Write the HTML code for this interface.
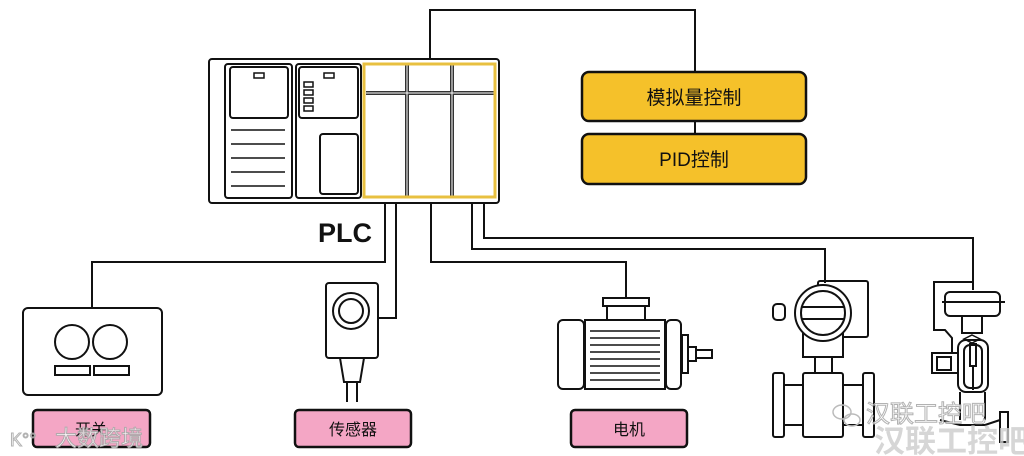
<!DOCTYPE html>
<html><head><meta charset="utf-8"><style>
html,body{margin:0;padding:0;background:#fff;}
svg{display:block;}
text{font-family:"Liberation Sans","Noto Sans CJK SC",sans-serif;}
</style></head><body>
<svg width="1024" height="456" viewBox="0 0 1024 456" xmlns="http://www.w3.org/2000/svg">
<g fill="none" stroke="#111" stroke-width="2">
<polyline points="430,59 430,10 695,10 695,72"/>
<line x1="695" y1="121" x2="695" y2="134"/>
<polyline points="385,203 385,262 92,262 92,308"/>
<polyline points="396,203 396,318 378,318"/>
<polyline points="431,203 431,262 626,262 626,298"/>
<polyline points="472,203 472,249 825,249 825,283"/>
<polyline points="484,203 484,238 973,238 973,290"/>
<rect x="209" y="59" width="290" height="144" rx="3"/>
<rect x="225" y="64" width="67" height="134" rx="3"/>
<rect x="230" y="67" width="58" height="51" rx="3"/>
<rect x="254" y="73" width="10" height="5" stroke-width="1.5"/>
<g stroke-width="1.5"><line x1="231" y1="130" x2="285" y2="130"/><line x1="231" y1="144" x2="285" y2="144"/><line x1="231" y1="158" x2="285" y2="158"/><line x1="231" y1="172" x2="285" y2="172"/><line x1="231" y1="186" x2="285" y2="186"/></g>
<rect x="296" y="64" width="65" height="134" rx="3"/>
<rect x="299" y="67" width="59" height="51" rx="3"/>
<g stroke-width="1.5"><rect x="324" y="73" width="10" height="5"/><rect x="304" y="82" width="9" height="5"/><rect x="304" y="90" width="9" height="5"/><rect x="304" y="98" width="9" height="5"/><rect x="304" y="106" width="9" height="5"/></g>
<rect x="320" y="134" width="38" height="60" rx="3"/>
<g stroke="#333" stroke-width="4"><line x1="407" y1="65" x2="407" y2="197"/><line x1="452" y1="65" x2="452" y2="197"/><line x1="366" y1="93" x2="494" y2="93"/></g>
<g stroke="#fff" stroke-width="1"><line x1="407" y1="65" x2="407" y2="197"/><line x1="452" y1="65" x2="452" y2="197"/><line x1="366" y1="93" x2="494" y2="93"/></g>
<rect x="364" y="64" width="131" height="133" stroke="#e8c040" stroke-width="3"/>
<rect x="23" y="308" width="139" height="87" rx="5"/>
<circle cx="72" cy="342" r="17"/><circle cx="110" cy="342" r="17"/>
<rect x="55" y="366" width="35" height="9"/><rect x="94" y="366" width="35" height="9"/>
<rect x="326" y="283" width="52" height="75" rx="3"/>
<circle cx="351" cy="311" r="18"/><circle cx="351" cy="311" r="12"/>
<polygon points="340,358 364,358 360,382 344,382"/>
<line x1="347" y1="382" x2="347" y2="402"/><line x1="357" y1="382" x2="357" y2="402"/>
<rect x="603" y="298" width="46" height="8"/><rect x="607" y="306" width="38" height="14"/>
<rect x="558" y="320" width="26" height="69" rx="5"/>
<rect x="585" y="320" width="80" height="69"/>
<rect x="666" y="320" width="15" height="69" rx="5"/>
<rect x="682" y="335" width="6" height="38"/>
<rect x="688" y="347" width="8" height="14"/><rect x="696" y="350" width="16" height="8"/>
<g stroke-width="1.5"><line x1="590" y1="331" x2="660" y2="331"/><line x1="590" y1="338" x2="660" y2="338"/><line x1="590" y1="345" x2="660" y2="345"/><line x1="590" y1="352" x2="660" y2="352"/><line x1="590" y1="359" x2="660" y2="359"/><line x1="590" y1="366" x2="660" y2="366"/><line x1="590" y1="373" x2="660" y2="373"/><line x1="590" y1="380" x2="660" y2="380"/></g>
<rect x="818" y="281" width="50" height="56" rx="2"/>
<rect x="773" y="304" width="12" height="16" rx="4"/>
<rect x="803" y="330" width="40" height="27" fill="#fff"/>
<circle cx="823" cy="313" r="28" fill="#fff"/><circle cx="823" cy="313" r="22"/>
<line x1="801" y1="307" x2="845" y2="307"/><line x1="801" y1="319" x2="845" y2="319"/>
<rect x="815" y="357" width="17" height="16"/>
<rect x="773" y="373" width="11" height="64" rx="2"/><rect x="863" y="373" width="11" height="64" rx="2"/>
<line x1="784" y1="385" x2="803" y2="385"/><line x1="784" y1="425" x2="803" y2="425"/>
<line x1="843" y1="385" x2="863" y2="385"/><line x1="843" y1="425" x2="863" y2="425"/>
<rect x="803" y="373" width="40" height="64" rx="2"/>
<polyline points="973,290 973,282 934,282 934,330 945,330 952,338 952,354"/>
<rect x="945" y="292" width="55" height="24" rx="5"/>
<line x1="942" y1="302" x2="1005" y2="302"/>
<polyline points="962,316 962,333 982,333 982,316"/>
<polygon points="972,335 980,339 972,343 964,339" stroke-width="1.5"/>
<rect x="958" y="340" width="30" height="52" rx="8"/>
<rect x="964" y="345" width="18" height="43" rx="6"/>
<rect x="970" y="344" width="6" height="22"/>
<line x1="973" y1="366" x2="973" y2="390"/>
<rect x="932" y="353" width="26" height="20"/>
<rect x="937" y="357" width="14" height="13"/>
<line x1="960" y1="392" x2="960" y2="420"/><line x1="985" y1="392" x2="985" y2="420"/>
<polyline points="940,420 960,425 985,425 1000,420"/>
<rect x="1000" y="412" width="8" height="30"/>
<rect x="582" y="72" width="224" height="49" rx="7" fill="#f5c12a" stroke-width="2.5"/>
<rect x="582" y="134" width="224" height="50" rx="7" fill="#f5c12a" stroke-width="2.5"/>
<rect x="33" y="410" width="117" height="37" rx="4" fill="#f4a6c5" stroke-width="2.5"/>
<rect x="295" y="410" width="116" height="37" rx="4" fill="#f4a6c5" stroke-width="2.5"/>
<rect x="571" y="410" width="116" height="37" rx="4" fill="#f4a6c5" stroke-width="2.5"/>
</g>
<g fill="#111" font-size="19" text-anchor="middle">
<text x="694" y="104">模拟量控制</text>
<text x="694" y="166">PID控制</text>
</g>
<text x="345" y="242" font-size="27" font-weight="bold" text-anchor="middle" fill="#111">PLC</text>
<g fill="#111" font-size="16" text-anchor="middle">
<text x="91" y="435">开关</text>
<text x="353" y="435">传感器</text>
<text x="629" y="435">电机</text>
</g>
<g fill="#fff" stroke="#aaa" stroke-width="1" font-size="22" opacity="0.9">
<text x="55" y="446">大数跨境</text>
<text x="10" y="446" font-size="18">K°°</text>
<text x="866" y="422" font-size="24">汉联工控吧</text>
</g>
<text x="874" y="452" font-size="31" font-weight="bold" fill="#ccc" opacity="0.8">汉联工控吧</text>
<g fill="none" stroke="#bbb" stroke-width="1.5"><ellipse cx="842" cy="412" rx="9" ry="7"/><ellipse cx="852" cy="420" rx="8" ry="6"/></g>
</svg>
</body></html>
